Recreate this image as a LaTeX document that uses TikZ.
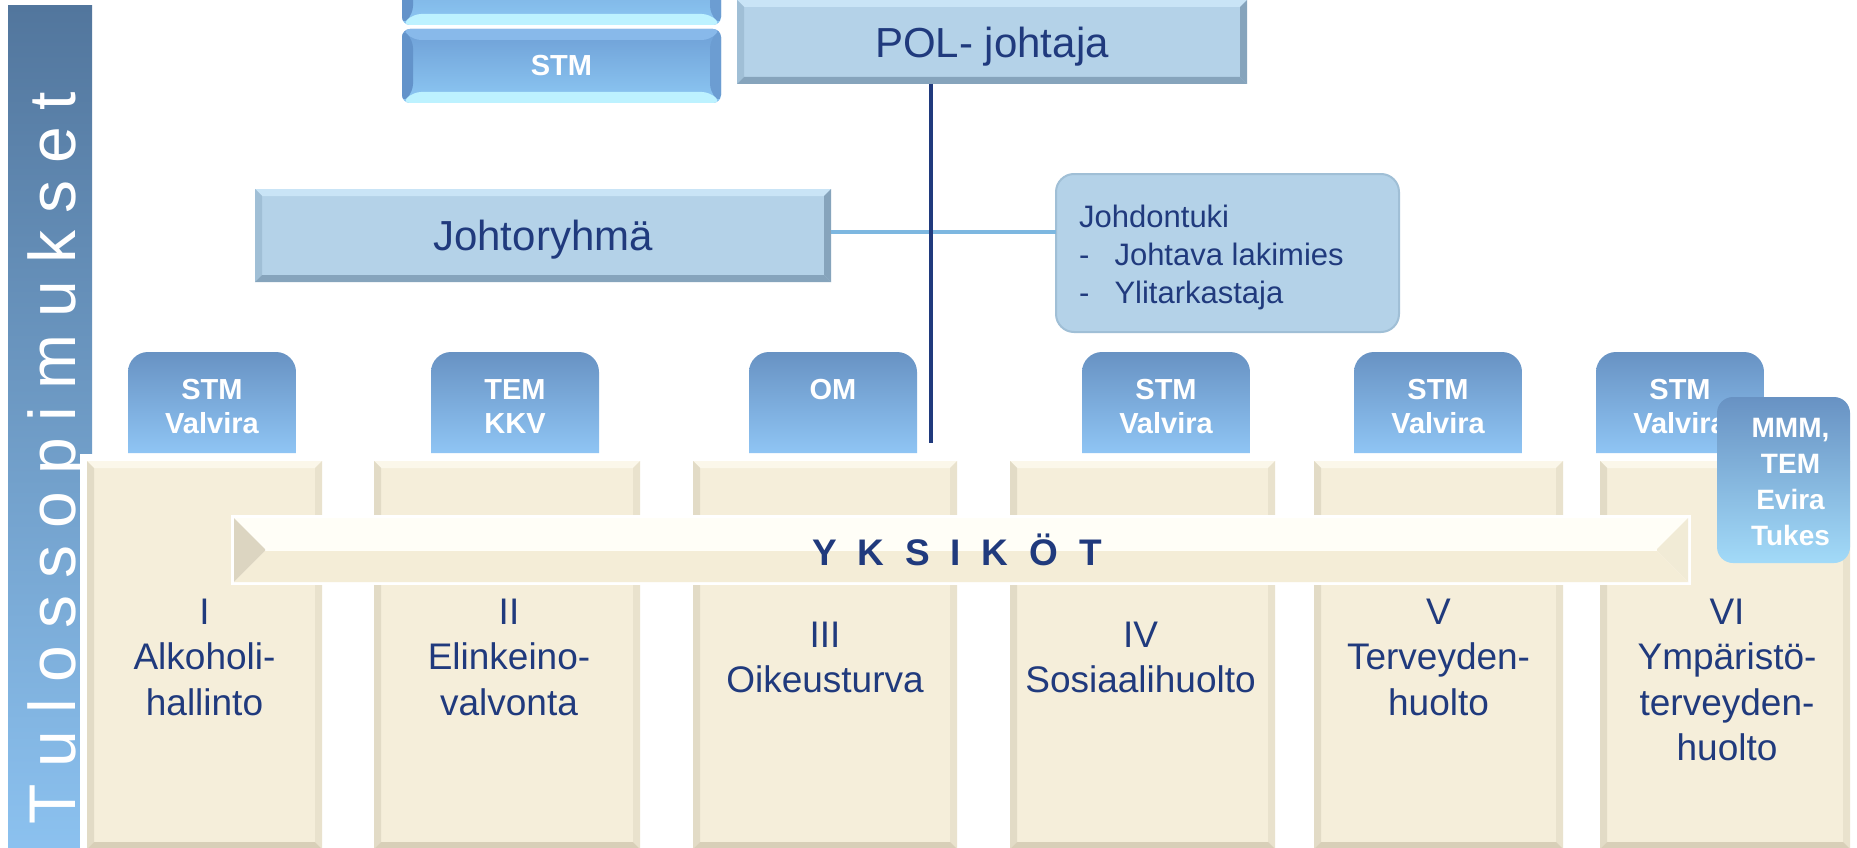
\documentclass[tikz,border=0pt]{standalone}
\usepackage{fontspec}
\setmainfont{Liberation Sans}
\usetikzlibrary{calc}
\definecolor{navy}{HTML}{203A7D}
\definecolor{boxblue}{HTML}{B4D2E8}
\definecolor{boxbluelt}{HTML}{C9E4F6}
\definecolor{boxblueside}{HTML}{A0BFD6}
\definecolor{boxbluedk}{HTML}{86A4BC}
\definecolor{beige}{HTML}{F5EEDA}
\definecolor{beigelt}{HTML}{FBF7EA}
\definecolor{beigeside}{HTML}{E2DBC6}
\definecolor{beigeright}{HTML}{E9E2CD}
\definecolor{beigedk}{HTML}{D8CFB8}
\definecolor{bartop}{HTML}{52769D}
\definecolor{barbot}{HTML}{8CC2F0}
\definecolor{tabtop}{HTML}{6892C3}
\definecolor{tabbot}{HTML}{8FC5F4}
\definecolor{mmmbot}{HTML}{A2DAF8}
\definecolor{hlinecol}{HTML}{7DB7E0}
\definecolor{glow}{HTML}{BDF2FF}
\definecolor{stmtop}{HTML}{6E9FD6}
\definecolor{stmbot}{HTML}{8DC8F3}
\definecolor{stmlt}{HTML}{88B9EA}
\definecolor{stmside}{HTML}{6393CA}
\definecolor{stmright}{HTML}{6C9DD2}
\definecolor{bannerlt}{HTML}{FFFEF7}
\definecolor{bannerdk}{HTML}{F4EDD7}
\definecolor{bannerside}{HTML}{DCD5C1}
\definecolor{bannerright}{HTML}{F1EBD6}
\newcommand\ppb{path picture bounding box}
\newcommand\barspacing{\setlength{\spaceskip}{17pt}}
\newcommand\bannerspacing{\setlength{\spaceskip}{20.8pt}}
\tikzset{
  bevel/.style n args={5}{path picture={
    \fill[#1] (\ppb.north west) -- (\ppb.north east) -- ([xshift=-#5,yshift=-#5]\ppb.north east) -- ([xshift=#5,yshift=-#5]\ppb.north west) -- cycle;
    \fill[#2] (\ppb.north west) -- ([xshift=#5,yshift=-#5]\ppb.north west) -- ([xshift=#5,yshift=#5]\ppb.south west) -- (\ppb.south west) -- cycle;
    \fill[#3] (\ppb.north east) -- ([xshift=-#5,yshift=-#5]\ppb.north east) -- ([xshift=-#5,yshift=#5]\ppb.south east) -- (\ppb.south east) -- cycle;
    \fill[#4] (\ppb.south west) -- ([xshift=#5,yshift=#5]\ppb.south west) -- ([xshift=-#5,yshift=#5]\ppb.south east) -- (\ppb.south east) -- cycle;
  }},
  base/.style={anchor=north west, inner sep=0pt, outer sep=0pt},
  barbox/.style={base, top color=bartop, bottom color=barbot},
  bartext/.style={rotate=90, anchor=base west, inner sep=0pt, text=white,
    font=\fontsize{66}{70}\selectfont\barspacing},
  stmbox/.style={base, rounded corners=8pt, top color=stmtop, bottom color=stmbot,
    text=white, font=\bfseries\fontsize{29}{34}\selectfont,
    bevel={stmlt}{stmside}{stmright}{glow}{11pt}},
  topbox/.style={base, fill=boxblue, text=navy, text depth=0pt,
    font=\fontsize{42}{48}\selectfont,
    bevel={boxbluelt}{boxblueside}{boxbluedk}{boxbluedk}{7pt}},
  supportbox/.style={base, rounded corners=18pt, fill=boxblue, draw=boxblueside, line width=2pt},
  supporttext/.style={anchor=north west, inner sep=0pt, align=left, text=navy,
    font=\fontsize{31}{38}\selectfont},
  hlinestyle/.style={draw=hlinecol, line width=4.5pt},
  vlinestyle/.style={draw=navy, line width=4pt},
  tabshape/.style={base, minimum width=168pt, minimum height=101pt,
    path picture={\shade[top color=tabtop, bottom color=tabbot, rounded corners=20pt]
      (\ppb.south west) -- (\ppb.north west) -- (\ppb.north east) -- (\ppb.south east);}},
  tabtext/.style={anchor=north, inner sep=0pt, align=center, text=white,
    font=\bfseries\fontsize{29}{34}\selectfont},
  unitbox/.style={base, minimum height=388pt, fill=beige,
    preaction={draw=white, line width=14pt},
    bevel={beigelt}{beigeside}{beigeright}{beigedk}{7pt}},
  unittext/.style={anchor=north, inner sep=0pt, align=center, text=navy,
    font=\fontsize{37}{45.5}\selectfont},
  banner/.style={base, fill=bannerlt, preaction={draw=white, line width=6pt},
    bevel={bannerlt}{bannerside}{bannerright}{bannerdk}{31pt}},
  bannertext/.style={anchor=base, inner sep=0pt, text=navy,
    font=\bfseries\fontsize{37}{44}\selectfont\bannerspacing},
  mmmbox/.style={base, rounded corners=16pt, top color=tabtop, bottom color=mmmbot},
  mmmtext/.style={inner sep=0pt, align=center, text=white,
    font=\bfseries\fontsize{28}{36}\selectfont}
}
\begin{document}
\begin{tikzpicture}[x=1pt,y=-1pt]
\useasboundingbox (0,0) rectangle (1857,848);
\fill[white] (0,0) rectangle (1857,848);
% side bar
\node (bar) [barbox, minimum width=84pt, minimum height=850pt] at (8,6) {};
\node (bartxt) [bartext] at (75,825) {T u l o s s o p i m u k s e t};
% top left boxes
\node (stm0) [stmbox, minimum width=319pt, minimum height=74pt] at (402,-49) {};
\node (stm1) [stmbox, minimum width=319pt, minimum height=74pt] at (402,29) {STM};
% management boxes
\node (pol) [topbox, minimum width=510pt, minimum height=84pt] at (737,0) {POL- johtaja};
\node (jr) [topbox, minimum width=576pt, minimum height=93pt] at (255,189) {Johtoryhmä};
\node (jt) [supportbox, minimum width=343pt, minimum height=158pt] at (1056,174) {};
\node (jttxt) [supporttext] at (1079,205) {Johdontuki\\-\hspace{25pt}Johtava lakimies\\-\hspace{25pt}Ylitarkastaja};
% connectors
\coordinate (hl) at ([yshift=3.5pt]jr.east);
\draw[hlinestyle] (hl) -- (hl -| jt.west);
\coordinate (vend) at (931,443);
\draw[vlinestyle] (vend |- pol.south) -- (vend);
% tabs
\node (tab1) [tabshape] at (128,352) {};
\node (tab1t) [tabtext] at ([yshift=-27pt]tab1.north) {STM\\Valvira};
\node (tab2) [tabshape] at (431,352) {};
\node (tab2t) [tabtext] at ([yshift=-27pt]tab2.north) {TEM\\KKV};
\node (tab3) [tabshape] at (749,352) {};
\node (tab3t) [tabtext] at ([yshift=-27pt]tab3.north) {OM};
\node (tab4) [tabshape] at (1082,352) {};
\node (tab4t) [tabtext] at ([yshift=-27pt]tab4.north) {STM\\Valvira};
\node (tab5) [tabshape] at (1354,352) {};
\node (tab5t) [tabtext] at ([yshift=-27pt]tab5.north) {STM\\Valvira};
\node (tab6) [tabshape] at (1596,352) {};
\node (tab6t) [tabtext] at ([yshift=-27pt]tab6.north) {STM\\Valvira};
% units
\node (u1) [unitbox, minimum width=235pt] at (87,461) {};
\node (u2) [unitbox, minimum width=266pt] at (374,461) {};
\node (u3) [unitbox, minimum width=264pt] at (693,461) {};
\node (u4) [unitbox, minimum width=265pt] at (1010,461) {};
\node (u5) [unitbox, minimum width=249pt] at (1314,461) {};
\node (u6) [unitbox, minimum width=250pt] at (1600,461) {};
\node (u1t) [unittext] at ([yshift=-137.5pt]u1.north) {I\\Alkoholi-\\hallinto};
\node (u2t) [unittext] at ([xshift=2pt,yshift=-137.5pt]u2.north) {II\\Elinkeino-\\valvonta};
\node (u3t) [unittext] at ([yshift=-160.5pt]u3.north) {III\\Oikeusturva};
\node (u4t) [unittext] at ([xshift=-2pt,yshift=-160.5pt]u4.north) {IV\\Sosiaalihuolto};
\node (u5t) [unittext] at ([yshift=-137.5pt]u5.north) {V\\Terveyden-\\huolto};
\node (u6t) [unittext] at ([xshift=2pt,yshift=-137.5pt]u6.north) {VI\\Ympäristö-\\terveyden-\\huolto};
% banner
\node (yks) [banner, minimum width=1454pt, minimum height=64pt] at (234,518) {};
\node (ykst) [bannertext] at (957,565) {Y K S I K Ö T};
% extra tab
\node (mmm) [mmmbox, minimum width=133pt, minimum height=166pt] at (1717,397) {};
\node (mmmt) [mmmtext] at ([xshift=7pt,yshift=-2pt]mmm.center) {MMM,\\TEM\\Evira\\Tukes};
\end{tikzpicture}
\end{document}
